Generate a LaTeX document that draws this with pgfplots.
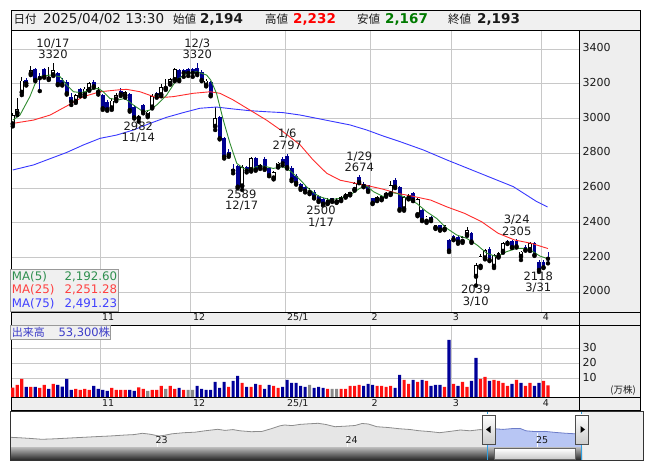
\documentclass[border=0pt]{standalone}
\usepackage{pgfplots}
\pgfplotsset{compat=1.18}
\usepackage{pgfplotstable}
\usepackage{fontspec}
\setmainfont{DejaVu Sans}
\newfontfamily\jp{Noto Sans CJK JP}

\definecolor{navyc}{HTML}{000090}
\definecolor{gridc}{HTML}{C8C8C8}
\definecolor{panelc}{HTML}{EEEEEE}
\definecolor{infoc}{HTML}{F0F0F0}
\definecolor{mafive}{HTML}{2E8B2E}
\definecolor{matwf}{HTML}{FF2A2A}
\definecolor{masvf}{HTML}{3838FF}
\definecolor{vred}{HTML}{FF1010}
\definecolor{vblue}{HTML}{000099}
\definecolor{vgrey}{HTML}{8A8A8A}
\definecolor{txt}{HTML}{1A1A1A}
\definecolor{volt}{HTML}{3C3CC8}
\definecolor{navfill}{HTML}{E6E6E6}
\definecolor{navline}{HTML}{8C8C8C}
\definecolor{selfill}{HTML}{B8C6F4}
\definecolor{selline}{HTML}{6C7CC8}
\definecolor{selmark}{HTML}{2FA0E0}
\definecolor{greenv}{HTML}{007A00}
\definecolor{mafivet}{HTML}{2F8F4F}
\definecolor{matwft}{HTML}{FF4040}
\definecolor{masvft}{HTML}{4040FF}

% up candles (close > open)
\pgfplotstableread{
i o h l c
0 2967 3030 2955 3020
1 3030 3116 3020 3053
2 3149 3241 3135 3218
4 3256 3302 3250 3279
8 3226 3298 3222 3238
9 3250 3320 3245 3280
14 3097 3142 3090 3135
16 3135 3180 3125 3172
17 3165 3210 3160 3202
19 3150 3180 3138 3160
22 3059 3110 3050 3103
23 3110 3145 3100 3135
25 3130 3160 3120 3150
28 3000 3022 2982 3010
30 3015 3045 3008 3040
31 3064 3140 3058 3130
33 3135 3200 3128 3183
34 3172 3225 3165 3183
35 3200 3235 3195 3225
36 3222 3290 3215 3285
43 3190 3230 3185 3218
45 2953 3064 2934 3001
51 2610 2730 2589 2722
53 2704 2780 2695 2771
55 2718 2740 2710 2730
58 2656 2700 2650 2694
59 2723 2752 2718 2746
66 2572 2600 2565 2585
70 2512 2540 2508 2530
72 2518 2540 2515 2530
73 2530 2555 2525 2550
74 2550 2570 2545 2565
75 2562 2580 2558 2575
76 2590 2635 2585 2627
81 2528 2555 2525 2548
82 2535 2560 2530 2552
83 2558 2580 2550 2570
84 2565 2640 2560 2617
87 2478 2555 2470 2550
88 2540 2568 2535 2560
90 2445 2540 2438 2535
92 2407 2440 2400 2436
94 2370 2390 2365 2385
96 2362 2390 2358 2385
100 2292 2322 2285 2316
101 2330 2374 2325 2359
103 2090 2168 2039 2157
104 2148 2220 2140 2210
105 2196 2250 2190 2244
107 2148 2222 2140 2215
108 2205 2232 2200 2224
109 2234 2290 2228 2282
113 2205 2240 2186 2234
115 2244 2290 2238 2282
}\upc

% down candles (close <= open)
\pgfplotstableread{
i o h l c
3 3222 3235 3190 3202
5 3285 3290 3215 3222
6 3245 3262 3158 3232
7 3285 3290 3235 3240
10 3262 3268 3192 3198
11 3222 3232 3190 3196
12 3212 3220 3138 3145
13 3126 3145 3078 3097
15 3168 3178 3128 3140
18 3212 3222 3178 3185
20 3135 3140 3050 3059
21 3097 3105 3045 3053
24 3160 3178 3130 3140
26 3140 3145 3040 3049
27 3068 3075 3000 3007
29 3078 3085 3030 3040
32 3148 3155 3120 3134
37 3280 3285 3215 3222
38 3280 3285 3240 3262
39 3283 3290 3245 3262
40 3283 3288 3240 3262
41 3290 3320 3250 3258
42 3270 3278 3215 3222
44 3212 3218 3128 3135
46 3007 3015 2880 2886
47 2886 2895 2770 2780
48 2810 2825 2780 2790
49 2708 2740 2685 2700
50 2727 2735 2600 2608
52 2720 2728 2690 2700
54 2771 2778 2700 2706
56 2770 2776 2705 2713
57 2713 2720 2668 2675
60 2770 2778 2730 2742
61 2785 2797 2712 2720
62 2715 2725 2640 2650
63 2672 2682 2620 2630
64 2622 2630 2590 2600
65 2605 2610 2575 2585
67 2580 2590 2540 2548
68 2552 2560 2520 2528
69 2535 2542 2500 2510
71 2540 2545 2520 2530
77 2662 2674 2628 2635
78 2625 2632 2605 2612
79 2615 2620 2578 2585
80 2540 2545 2508 2515
85 2645 2656 2600 2608
86 2608 2612 2470 2478
89 2570 2578 2525 2531
91 2474 2480 2410 2416
93 2432 2438 2410 2420
95 2385 2390 2355 2362
97 2300 2305 2232 2240
98 2325 2330 2300 2306
99 2316 2325 2280 2292
102 2340 2348 2285 2292
106 2248 2260 2180 2186
110 2298 2303 2278 2285
111 2295 2300 2255 2260
112 2298 2305 2258 2265
114 2262 2270 2240 2244
116 2282 2290 2210 2215
117 2177 2185 2118 2129
118 2177 2185 2140 2144
119 2194 2232 2167 2193
}\downc

% volume (10,000 shares)
\pgfplotstableread{
i v
0 3.8
1 5.6
2 9.6
4 4.2
6 3.6
7 5.6
9 6.2
14 2.9
15 2.2
16 2.9
17 2.2
22 3.6
23 2.2
24 2.2
25 2.2
28 4.0
29 2.9
31 2.2
32 2.2
33 4.9
35 4.9
36 2.9
38 2.2
48 4.2
51 6.9
53 4.2
55 5.6
58 4.9
59 3.6
70 2.9
73 2.9
74 2.9
75 4.9
76 4.9
77 5.6
81 4.9
82 4.9
83 4.2
84 4.9
87 8.9
88 6.2
90 7.6
92 8.2
96 4.2
98 6.2
100 7.6
101 4.2
104 9.6
105 10.9
107 8.9
108 8.2
109 6.9
110 4.9
112 8.9
114 4.9
115 6.9
118 8.2
119 5.33
}\volred

\pgfplotstableread{
i v
3 4.2
5 4.2
8 2.9
10 5.6
11 4.4
12 9.6
13 2.2
18 4.9
19 2.9
20 2.2
21 1.6
26 2.2
27 1.6
37 3.6
41 4.9
42 2.9
43 2.2
44 2.2
45 7.6
46 3.6
47 7.6
49 8.2
50 11.6
52 4.2
54 6.2
56 2.9
57 5.6
60 4.2
61 8.9
62 6.9
63 6.9
64 4.9
65 4.2
67 3.6
68 4.2
69 3.6
78 4.9
79 6.2
80 5.6
85 3.6
86 12.2
89 8.9
91 8.9
93 4.9
94 5.6
95 5.6
97 35.6
99 4.9
102 8.2
103 23.6
106 8.2
111 6.2
113 6.9
116 4.9
117 6.9
}\volblue

\pgfplotstableread{
i v
30 1.6
34 2.9
39 2.2
40 2.2
66 5.6
71 2.9
72 2.9
}\volgrey

% navigator (x in px, height in px)
\pgfplotstableread{
x h
10.5 10.7
20 10.2
30 9.6
41.9 8.7
55 9.2
70 10
83.7 10.7
95 11.3
110 12
125.6 13
134 13.4
142.3 14.7
150 13.8
159 12
165 12.8
172 14.2
184.2 15.3
195 15.8
205 17.2
217.7 18.7
225 17.6
233 18.4
240 17.2
251.2 16.3
262 16.6
272 19.5
280 22.2
284.6 23
292 22.4
300 23.6
309 24.2
318.1 24.7
326 23.5
334.9 21.3
345 21.8
355 22.5
362 24.5
368.4 24
376.7 21.3
388 20.5
400 19.2
410 18.5
418.6 17.3
430 16.4
439.5 15.3
450 16.6
460.4 18
470 17.2
480 18.4
487.7 17.8
}\navall

\pgfplotstableread{
x h
487.7 17.8
495 19.2
503 18.6
512 19.4
520 19.6
526 17.2
535 16.4
545 16.6
555 15.6
565 14.8
575 14.2
581.8 14.3
}\navsel

\newcommand{\fs}[1]{\fontsize{#1}{#1}\selectfont}

\begin{document}
\begin{tikzpicture}[x=1pt,y=1pt]
\path[use as bounding box] (0,0) rectangle (653,470);
% backgrounds
\fill[infoc] (11,440) rectangle (640,460);
\fill[panelc] (579,158) rectangle (640,440);
\fill[panelc] (579,72.7) rectangle (640,145);
\fill[panelc] (11,145) rectangle (640,158);
\fill[panelc] (11,59.3) rectangle (640,72.7);

% ===== price panel =====
\begin{axis}[at={(11pt,158pt)}, anchor=south west, scale only axis,
  width=568pt, height=282pt,
  xmin=-0.4, xmax=125.9, ymin=1887, ymax=3509.3,
  axis line style={black, line width=0.8pt},
  xtick={19.6,39.6,60.6,79.6,97.6,117.6}, xticklabels={},
  ytick={2000,2200,2400,2600,2800,3000,3200,3400},
  xmajorgrids, ymajorgrids,
  grid style={gridc, line width=0.9pt},
  major tick length=0pt, tick style={draw=none},
  yticklabel pos=right,
  yticklabel style={font=\fs{11}, text=txt, anchor=west, inner sep=0pt, xshift=3.5pt, yshift=1.5pt},
  /pgf/number format/1000 sep={},
  /pgf/number format/assume math mode=true]
% wicks
\addplot[only marks, mark=none, error bars/.cd, y dir=plus, y explicit, error mark=none,
  error bar style={line width=0.9pt, black}]
  table[x=i, y=l, y error plus expr={\thisrow{h}-\thisrow{l}}] \upc;
\addplot[only marks, mark=none, error bars/.cd, y dir=plus, y explicit, error mark=none,
  error bar style={line width=0.9pt, navyc}]
  table[x=i, y=l, y error plus expr={\thisrow{h}-\thisrow{l}}] \downc;
% bodies
\addplot[only marks, mark=none, error bars/.cd, y dir=plus, y explicit, error mark=none,
  error bar style={line width=3.9pt, navyc}]
  table[x=i, y=c, y error plus expr={max(\thisrow{o}-\thisrow{c},5.5)}] \downc;
\addplot[only marks, mark=none, error bars/.cd, y dir=plus, y explicit, error mark=none,
  error bar style={line width=3.9pt, black}]
  table[x=i, y=o, y error plus expr={\thisrow{c}-\thisrow{o}}] \upc;
\addplot[only marks, mark=none, error bars/.cd, y dir=plus, y explicit, error mark=none,
  error bar style={line width=2.3pt, white}]
  table[x=i, y expr={\thisrow{o}+4.6}, y error plus expr={max(\thisrow{c}-\thisrow{o}-9.2,0)}] \upc;
% moving averages
\addplot[masvf, line width=0.9pt] coordinates {(0,2704) (4.6,2733) (12,2805) (15.7,2848) (19.4,2886) (23.1,2905) (26.8,2934) (30.5,2972) (34.2,3007) (37.9,3034) (41.6,3059) (45.3,3066) (49,3055) (52.7,3045) (56.4,3039) (60.1,3034) (63.9,3020) (67.6,3001) (71.3,2982) (75,2963) (78.7,2934) (82.4,2899) (86.1,2867) (91.3,2819) (96.5,2762) (103.9,2685) (111.3,2608) (116.5,2522) (118.9,2491)};
\addplot[matwf, line width=0.9pt] coordinates {(0,2972) (4.6,2991) (8.3,3020) (12,3072) (15.7,3126) (19.4,3154) (23.1,3164) (25.3,3168) (28.3,3154) (31.3,3126) (32.7,3120) (35.7,3126) (40.1,3145) (43.9,3154) (46.1,3145) (49,3107) (52.7,3049) (56.4,2991) (60.1,2924) (63.9,2848) (66.8,2761) (69.8,2685) (72.8,2645) (75.7,2630) (78.7,2615) (82.4,2593) (85.4,2570) (88.5,2555) (92.9,2531) (96.5,2492) (100.4,2455) (104.2,2407) (107.9,2340) (111.6,2301) (115.3,2282) (119,2252)};
\addplot[mafive, line width=0.9pt] coordinates {(0,2991) (1.6,3020) (3.8,3126) (5.3,3222) (6.5,3245) (8.3,3250) (10.5,3241) (12,3193) (13.5,3154) (15.3,3149) (17.2,3164) (19,3174) (20.1,3154) (21.6,3116) (23.5,3107) (24.9,3116) (26.8,3078) (29,3039) (30.5,3049) (32,3078) (34.2,3135) (36.4,3222) (38.7,3260) (40.9,3270) (43.1,3250) (44,3222) (45.3,3145) (46.8,2991) (48.3,2857) (49.8,2742) (51.3,2713) (52.7,2704) (54.2,2723) (55.7,2727) (57.9,2713) (60.1,2723) (61.6,2700) (63.1,2666) (64,2645) (65.3,2608) (66.1,2589) (67.6,2560) (68.5,2548) (70.5,2533) (72.8,2541) (75,2560) (77.2,2599) (78.7,2612) (80.2,2579) (82.4,2551) (83.9,2574) (85.4,2570) (87.6,2541) (89.8,2512) (92,2464) (94.2,2426) (96.5,2368) (98.7,2330) (100.9,2311) (103.2,2273) (105.4,2225) (107.6,2205) (109.8,2234) (112,2253) (114.2,2253) (115.7,2234) (117.2,2209) (119,2193)};
\end{axis}

% ===== volume panel =====
\begin{axis}[at={(11pt,72.7pt)}, anchor=south west, scale only axis,
  width=568pt, height=72.3pt,
  xmin=-0.4, xmax=125.9, ymin=0, ymax=48.2,
  axis line style={black, line width=0.8pt},
  xtick={19.6,39.6,60.6,79.6,97.6,117.6}, xticklabels={},
  ytick={12.67,22.67,32.67}, yticklabels={10,20,30},
  xmajorgrids, ymajorgrids,
  grid style={gridc, line width=0.9pt},
  major tick length=0pt, tick style={draw=none},
  yticklabel pos=right,
  yticklabel style={font=\fs{11}, text=txt, anchor=west, inner sep=0pt, xshift=3.5pt, yshift=0.5pt}]
\addplot[ybar, bar width=3.1pt, bar shift=0pt, fill=vred, draw=none] table[x=i, y expr={\thisrow{v}+2.67}] \volred;
\addplot[ybar, bar width=3.1pt, bar shift=0pt, fill=vblue, draw=none] table[x=i, y expr={\thisrow{v}+2.67}] \volblue;
\addplot[ybar, bar width=3.1pt, bar shift=0pt, fill=vgrey, draw=none] table[x=i, y expr={\thisrow{v}+2.67}] \volgrey;
\end{axis}

% ===== navigator =====
\begin{axis}[at={(10.5pt,22pt)}, anchor=south west, scale only axis,
  width=632.5pt, height=37pt, xmin=10.5, xmax=643, ymin=0, ymax=37, hide axis]
\addplot[fill=navfill, draw=none] table[x=x, y=h] \navall \closedcycle;
\addplot[fill=selfill, draw=none] table[x=x, y=h] \navsel \closedcycle;
\addplot[navline, line width=0.8pt] table[x=x, y=h] \navall;
\addplot[selline, line width=0.8pt] table[x=x, y=h] \navsel;
\end{axis}
\draw[white, line width=0.8pt] (157,22) -- (157,33);
\draw[white, line width=0.8pt] (347.5,22) -- (347.5,35);
\draw[white, line width=0.8pt] (537.5,22) -- (537.5,37);
\node[anchor=base west, inner sep=0pt, font=\fs{9.5}, text=txt] at (155.5,26) {23};
\node[anchor=base west, inner sep=0pt, font=\fs{9.5}, text=txt] at (345.5,26) {24};
\node[anchor=base west, inner sep=0pt, font=\fs{9.5}, text=txt] at (536,26) {25};
\fill[panelc] (582,10) rectangle (643,59);
% scrollbar
\shade[top color=black!30, bottom color=black!85] (10.5,10) rectangle (582,22);
\shade[top color=white, bottom color=black!22, draw=black!60] (494,10.6) rectangle (575,21.4);
\draw[selmark, line width=0.8pt] (487.7,10) -- (487.7,59);
\draw[selmark, line width=0.8pt] (581.8,10) -- (581.8,59);
\shade[top color=white, bottom color=black!20, draw=black!70] (482,26) rectangle (495,55);
\shade[top color=white, bottom color=black!20, draw=black!70] (575.5,26) rectangle (588.5,55);
\fill[black] (486,40.5) -- (490.5,44) -- (490.5,37) -- cycle;
\fill[black] (585,40.5) -- (580.5,44) -- (580.5,37) -- cycle;
\draw[black!80, line width=0.8pt] (10.5,10) rectangle (643,59);

% frames
\draw[black, line width=0.8pt] (11,440) rectangle (640,460);
\draw[black, line width=0.8pt] (11,145) rectangle (640,158);
\draw[black, line width=0.8pt] (11,59.3) rectangle (640,72.7);
\draw[black, line width=0.8pt] (640,59.3) -- (640,460);
\draw[black, line width=0.8pt] (579,59.3) -- (579,158);

% info bar texts
\node[anchor=base west, inner sep=0pt, font=\jp\fs{11.5}, text=txt] at (13.3,446.3) {日付};
\node[anchor=base west, inner sep=0pt, font=\fs{13.5}, text=txt] at (43,446.3) {2025/04/02 13:30};
\node[anchor=base west, inner sep=0pt, font=\jp\fs{11.5}, text=txt] at (173,446.3) {始値};
\node[anchor=base west, inner sep=0pt, font=\bfseries\fs{13.5}, text=txt] at (200,446.3) {2,194};
\node[anchor=base west, inner sep=0pt, font=\jp\fs{11.5}, text=txt] at (265,446.3) {高値};
\node[anchor=base west, inner sep=0pt, font=\bfseries\fs{13.5}, text=red] at (293,446.3) {2,232};
\node[anchor=base west, inner sep=0pt, font=\jp\fs{11.5}, text=txt] at (357,446.3) {安値};
\node[anchor=base west, inner sep=0pt, font=\bfseries\fs{13.5}, text=greenv] at (385,446.3) {2,167};
\node[anchor=base west, inner sep=0pt, font=\jp\fs{11.5}, text=txt] at (448,446.3) {終値};
\node[anchor=base west, inner sep=0pt, font=\bfseries\fs{13.5}, text=txt] at (477,446.3) {2,193};

% high/low annotations
\tikzset{ann/.style={align=center, font=\fontsize{11.5}{11.5}\selectfont, text=txt, inner sep=0pt}}
\node[ann] at (53,421.3) {10/17\\3320};
\node[ann] at (197.3,421.3) {12/3\\3320};
\node[ann] at (138.3,337.5) {2982\\11/14};
\node[ann] at (241.7,269.5) {2589\\12/17};
\node[ann] at (287.3,330.5) {1/6\\2797};
\node[ann] at (321,253) {2500\\1/17};
\node[ann] at (359.3,308.3) {1/29\\2674};
\node[ann] at (516.7,244.8) {3/24\\2305};
\node[ann] at (475.7,174.1) {2039\\3/10};
\node[ann] at (538.3,187.8) {2118\\3/31};

% MA legend
\filldraw[fill=infoc, draw=black!40] (10.5,158.5) rectangle (118.5,201);
\node[anchor=base west, inner sep=0pt, font=\fs{11.8}, text=mafivet] at (11.7,189.7) {MA(5)};
\node[anchor=base east, inner sep=0pt, font=\fs{11.8}, text=mafivet] at (117.3,189.7) {2,192.60};
\node[anchor=base west, inner sep=0pt, font=\fs{11.8}, text=matwft] at (11.7,176.4) {MA(25)};
\node[anchor=base east, inner sep=0pt, font=\fs{11.8}, text=matwft] at (117.3,176.4) {2,251.28};
\node[anchor=base west, inner sep=0pt, font=\fs{11.8}, text=masvft] at (11.7,162.4) {MA(75)};
\node[anchor=base east, inner sep=0pt, font=\fs{11.8}, text=masvft] at (117.3,162.4) {2,491.23};

% volume legend
\filldraw[fill=infoc, draw=black!40] (10.5,130.7) rectangle (110,145);
\node[anchor=base west, inner sep=0pt, font=\jp\fs{11}, text=volt] at (11.7,133.8) {出来高};
\node[anchor=base west, inner sep=0pt, font=\fs{11.5}, text=volt] at (58.3,133.8) {53,300{\jp 株}};
\node[inner sep=0pt, font=\jp\fs{9.5}, text=txt] at (623,80) {(万株)};

% time labels
\foreach \yy in {149,63} {
\node[anchor=base west, inner sep=0pt, font=\fs{9.5}, text=txt] at (102,\yy) {11};
\node[anchor=base west, inner sep=0pt, font=\fs{9.5}, text=txt] at (193,\yy) {12};
\node[anchor=base west, inner sep=0pt, font=\fs{9.5}, text=txt] at (287,\yy) {25/1};
\node[anchor=base west, inner sep=0pt, font=\fs{9.5}, text=txt] at (371.5,\yy) {2};
\node[anchor=base west, inner sep=0pt, font=\fs{9.5}, text=txt] at (452.7,\yy) {3};
\node[anchor=base west, inner sep=0pt, font=\fs{9.5}, text=txt] at (542.7,\yy) {4};
}
\end{tikzpicture}
\end{document}
